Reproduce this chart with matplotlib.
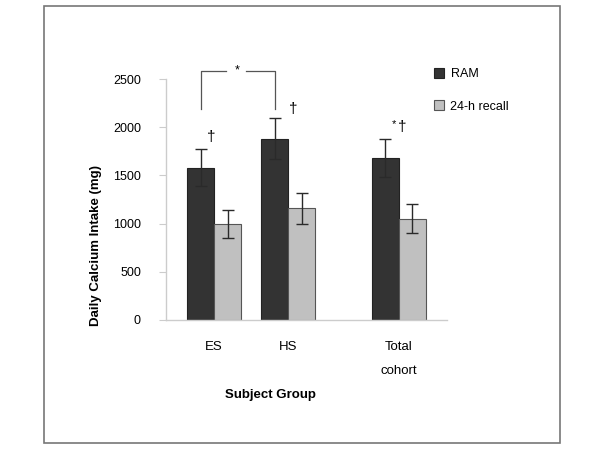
import matplotlib
matplotlib.use("Agg")
import matplotlib.pyplot as plt
from matplotlib.patches import Patch, Rectangle
import numpy as np

plt.rcParams['font.family'] = ['Liberation Sans', 'DejaVu Sans']

groups = ["ES", "HS", "Total\ncohort"]
group_pos = [0.0, 1.0, 2.5]
ram = [1580, 1880, 1680]
ram_err = [190, 215, 200]
recall = [1000, 1160, 1050]
recall_err = [145, 160, 150]
series_names = ["RAM", "24-h recall"]
yticks = [0, 500, 1000, 1500, 2000, 2500]

dark = "#333333"
light = "#c0c0c0"
w = 0.365

fig = plt.figure(figsize=(6, 4.5), dpi=100)
ax = fig.add_axes([166/600, 1-320/450, (447-166)/600, (320-79)/450])

x = np.array(group_pos)
ax.bar(x - w/2, ram, w, color=dark, edgecolor="#222222", linewidth=0.8,
       yerr=ram_err, error_kw=dict(ecolor="#2a2a2a", elinewidth=1, capsize=4, capthick=1))
ax.bar(x + w/2, recall, w, color=light, edgecolor="#555555", linewidth=0.8,
       yerr=recall_err, error_kw=dict(ecolor="#2a2a2a", elinewidth=1, capsize=4, capthick=1))

ax.set_xlim(-0.65, 3.15)
ax.set_ylim(0, 2500)
ax.set_yticks(yticks)
ax.set_yticklabels([str(t) for t in yticks], fontsize=9)
ax.set_xticks(group_pos)
ax.set_xticklabels(groups, fontsize=9.5, linespacing=2.4, va="top")
ax.tick_params(axis="x", length=0, pad=15)
ax.tick_params(axis="y", length=5, color="#cccccc", pad=13)
for s in ["top", "right"]:
    ax.spines[s].set_visible(False)
for s in ["left", "bottom"]:
    ax.spines[s].set_color("#cccccc")
    ax.spines[s].set_linewidth(1)

ax.set_xlabel("Subject Group", fontsize=9.5, fontweight="bold")
ax.xaxis.set_label_coords(0.37, -0.285)
ax.set_ylabel("Daily Calcium Intake (mg)", fontsize=9.5, fontweight="bold")
ax.yaxis.set_label_coords(-0.228, 0.31)

# significance bracket
bl, br = group_pos[0] - w/2, group_pos[1] - w/2
ybot, ytop = 2190, 2585
kw = dict(color="#555555", lw=0.9, clip_on=False)
ax.plot([bl, bl, 0.16], [ybot, ytop, ytop], **kw)
ax.plot([0.43, br, br], [ytop, ytop, ybot], **kw)
ax.text(0.31, ytop, "*", ha="center", va="center", fontsize=9, clip_on=False)

ax.text(-0.04, 1900, "\u2020", ha="center", va="center", fontsize=11)
ax.text(1.07, 2190, "\u2020", ha="center", va="center", fontsize=11, clip_on=False)
ax.text(2.43, 2030, "*", ha="center", va="center", fontsize=8)
ax.text(2.545, 2000, "\u2020", ha="center", va="center", fontsize=11)

handles = [Patch(facecolor=dark, edgecolor="#222222", linewidth=0.8),
           Patch(facecolor=light, edgecolor="#555555", linewidth=0.8)]
fig.legend(handles, series_names, loc="upper left",
           bbox_to_anchor=(423/600, 1-57/450), frameon=False, fontsize=9,
           handlelength=0.8, handleheight=0.8, handletextpad=0.5, labelspacing=1.6)

fig.add_artist(Rectangle((44/600, 1-443/450), (560-44)/600, (443-6)/450,
                         transform=fig.transFigure, fill=False,
                         edgecolor="#777777", linewidth=1.2))

fig.savefig("out.png", dpi=100)
